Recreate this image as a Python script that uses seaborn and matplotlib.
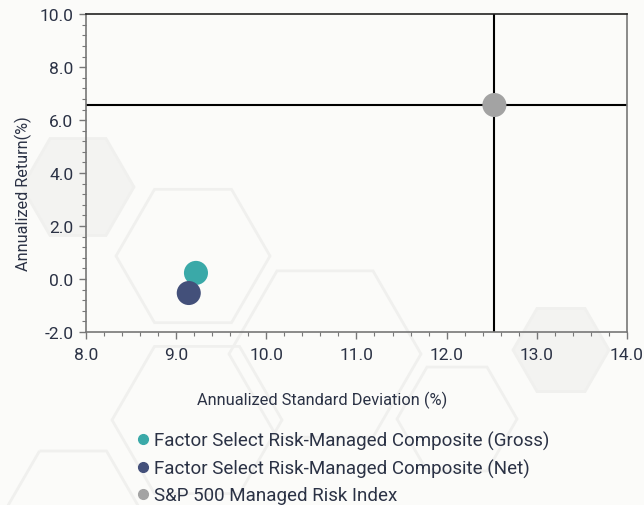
import numpy as np
import pandas as pd
import matplotlib.pyplot as plt
import seaborn as sns
from matplotlib.lines import Line2D
from matplotlib.patches import RegularPolygon
from matplotlib.ticker import MultipleLocator, FormatStrFormatter

# data
names = [
    "Factor Select Risk-Managed Composite (Gross)",
    "Factor Select Risk-Managed Composite (Net)",
    "S&P 500 Managed Risk Index",
]
std_dev = [9.22, 9.14, 12.53]
returns = [0.23, -0.53, 6.57]
colors = ["#3aa9a8", "#43507a", "#a3a3a3"]

df = pd.DataFrame({"name": names, "std": std_dev, "ret": returns})

sns.set_style("white")
plt.rcParams['font.family'] = ['Roboto', 'DejaVu Sans']
text_color = "#2b3245"
bg = "#fbfbf9"

fig = plt.figure(figsize=(6.44, 5.06), dpi=100, facecolor=bg)
ax = fig.add_axes([0.1335, 0.342, 0.840, 0.628])
ax.set_facecolor("none")

# faint hexagon watermarks in the background (pixel centre, radius, filled)
hexes = [
    (78, 188, 56, True), (193, 257, 77, False), (325, 355, 96, False),
    (561, 351, 48, True), (457, 420, 60, False), (197, 421, 85, False),
    (73, 510, 67, False),
]
for cx, cy, r, filled in hexes:
    p = RegularPolygon((cx / 100, (506 - cy) / 100), 6, radius=r / 100,
                       orientation=np.pi / 6, transform=fig.dpi_scale_trans,
                       facecolor="#f3f3f1" if filled else "none",
                       edgecolor="#f0f0ee", lw=2, zorder=-10)
    fig.patches.append(p)

sns.scatterplot(data=df, x="std", y="ret", hue="name", palette=colors,
                s=300, linewidth=0, legend=False, ax=ax, zorder=3)

# crosshair through the index
ax.axvline(std_dev[2], color="black", lw=1.5, zorder=2)
ax.axhline(returns[2], color="black", lw=1.5, zorder=2)

ax.set_xlim(8, 14)
ax.set_ylim(-2, 10)
ax.xaxis.set_major_locator(MultipleLocator(1))
ax.xaxis.set_minor_locator(MultipleLocator(0.2))
ax.yaxis.set_major_locator(MultipleLocator(2))
ax.yaxis.set_minor_locator(MultipleLocator(0.4))
ax.xaxis.set_major_formatter(FormatStrFormatter("%.1f"))
ax.yaxis.set_major_formatter(FormatStrFormatter("%.1f"))
ax.tick_params(which="major", direction="out", length=5, width=1,
               color="#777777", labelsize=12.5, labelcolor=text_color)
ax.tick_params(which="minor", direction="out", length=3, width=0.8,
               color="#777777")
ax.tick_params(axis="x", which="both", bottom=True, pad=6)
ax.tick_params(axis="y", which="both", left=True, pad=4)

for side in ["left", "bottom", "right"]:
    ax.spines[side].set_color("#777777")
    ax.spines[side].set_linewidth(1.2)
ax.spines["top"].set_color("#222222")
ax.spines["top"].set_linewidth(1.2)

ax.set_xlabel("Annualized Standard Deviation (%)", fontsize=11.8,
              color=text_color, labelpad=20)
ax.xaxis.set_label_coords(0.436, -0.185)
ax.set_ylabel("Annualized Return(%)", fontsize=11.7, color=text_color)
ax.yaxis.set_label_coords(-0.1, 0.439)

handles = [Line2D([], [], marker="o", ls="", color=c, markersize=7)
           for c in colors]
fig.legend(handles, names, loc="upper left", bbox_to_anchor=(0.207, 0.146),
           frameon=False, fontsize=13.5, labelcolor=text_color,
           handletextpad=0.1, handlelength=1.0, labelspacing=0.45,
           borderpad=0, borderaxespad=0)

fig.savefig("out.png", dpi=100, facecolor=bg)
